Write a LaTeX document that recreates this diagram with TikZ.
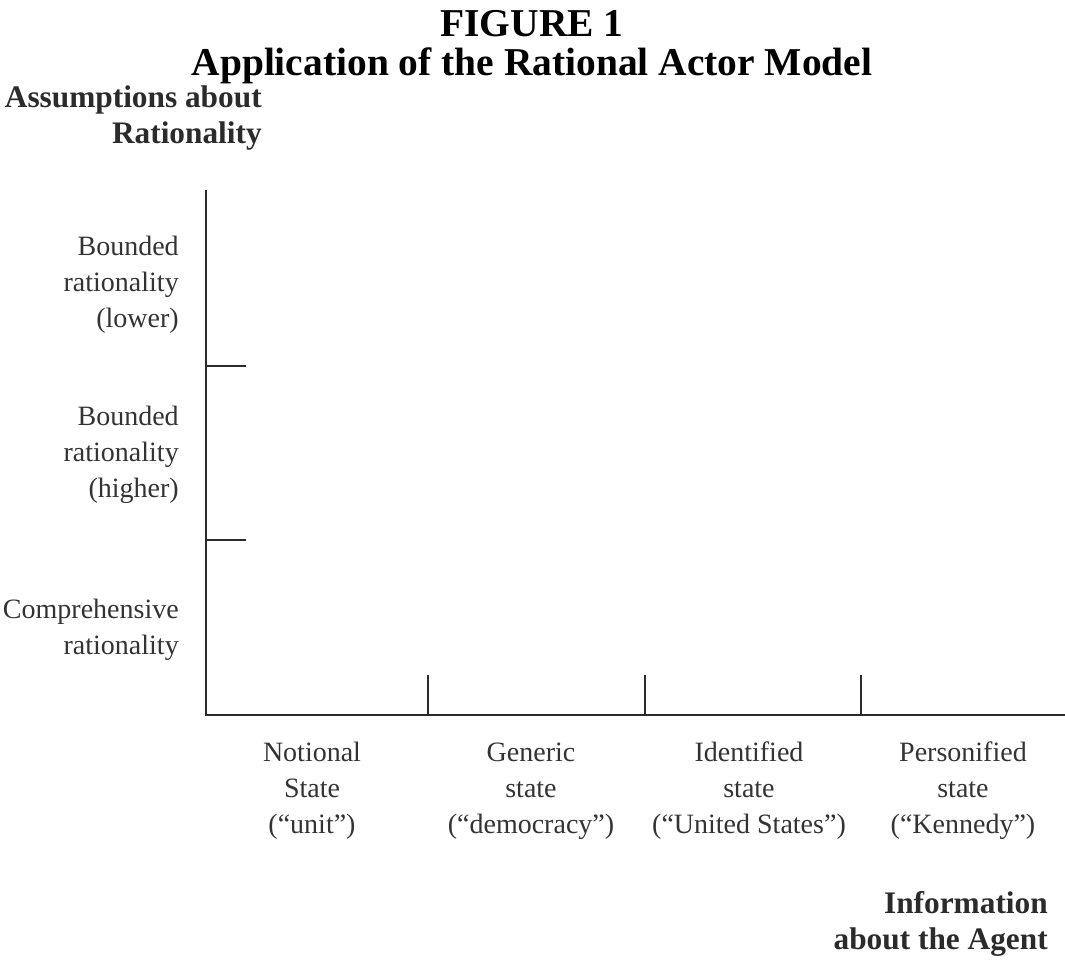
\documentclass[tikz,border=0pt]{standalone}
\usepackage{fontspec}
\setmainfont{Liberation Serif}
\usetikzlibrary{positioning}

\definecolor{axisgray}{HTML}{2B2B2B}
\definecolor{textgray}{HTML}{333333}

\tikzset{
  axisline/.style={draw=axisgray, line width=2pt},
  tickline/.style={draw=axisgray, line width=1.1pt},
  ylabel/.style={anchor=east, align=right, text=textgray, inner sep=0pt,
                 font=\fontsize{21}{27}\selectfont},
  xlabel/.style={align=center, text=textgray, inner sep=0pt,
                 font=\fontsize{21}{27}\selectfont},
  axistitle/.style={anchor=east, align=right, text=axisgray, inner sep=0pt,
                 font=\fontsize{23.5}{27}\selectfont\bfseries},
  figtitle/.style={align=center, inner sep=0pt, font=\fontsize{29.6}{28.8}\selectfont\bfseries}
}

\begin{document}
\begin{tikzpicture}[x=0.75pt, y=-0.75pt]
    \useasboundingbox (0,0) rectangle (1065,966);

    % title
    \node[figtitle] (title) at (532,47) {FIGURE 1\\Application of the Rational Actor Model};

    % axes
    \coordinate (origin) at (206,715);
    \coordinate (ytop) at (206,190);
    \coordinate (xend) at (1065,715);
    \draw[axisline] (ytop) -- (origin) -- (xend);

    \foreach \y/\k in {366/1,540/2} {
        \coordinate (yt\k) at (206,\y);
        \coordinate (ye\k) at (246,\y);
        \draw[tickline] (yt\k) -- (ye\k);
    }
    \foreach \x/\k in {428/1,645/2,861/3} {
        \coordinate (xt\k) at (\x,715);
        \coordinate (xe\k) at (\x,675);
        \draw[tickline] (xt\k) -- (xe\k);
    }

    % rationality levels
    \node[ylabel] (lower) at (179,285) {Bounded\\rationality\\(lower)};
    \node[ylabel] (higher) at (179,455) {Bounded\\rationality\\(higher)};
    \node[ylabel] (compr) at (179,630) {Comprehensive\\rationality};

    % information levels
    \foreach \x/\t/\k in {312/{Notional\\State\\(``unit'')}/0,
                          531/{Generic\\state\\(``democracy'')}/1,
                          749/{Identified\\state\\(``United States'')}/2,
                          963/{Personified\\state\\(``Kennedy'')}/3}
        \node[xlabel] (info\k) at (\x,791) {\t};

    % axis titles
    \node[axistitle] (ytitle) at (262,118) {Assumptions about\\Rationality};
    \node[axistitle] (xtitle) at (1048,924) {Information\\about the Agent};
\end{tikzpicture}
\end{document}
